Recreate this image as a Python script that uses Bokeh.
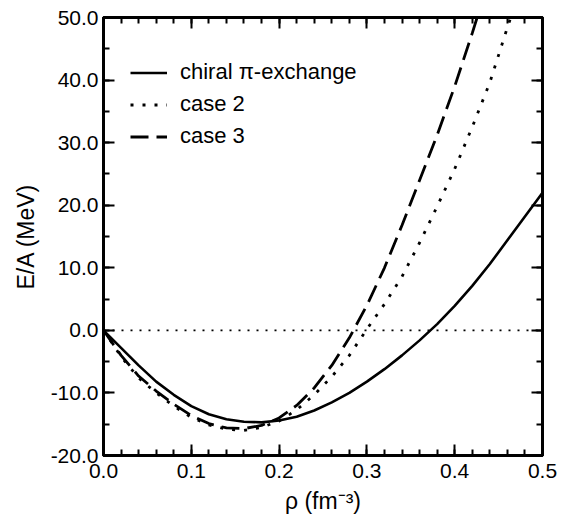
from bokeh.plotting import figure
from bokeh.models import (Range1d, FixedTicker, PrintfTickFormatter, LinearAxis,
                          Legend, LegendItem, Span, CustomLabelingPolicy)
from bokeh.embed import file_html
from bokeh.resources import INLINE

# Density grid (fm^-3) and energy per nucleon (MeV) for each calculation
rho_chiral = [0.00, 0.02, 0.04, 0.06, 0.08, 0.10, 0.12, 0.14, 0.16, 0.18, 0.20, 0.22, 0.24,
              0.26, 0.28, 0.30, 0.32, 0.34, 0.36, 0.38, 0.40, 0.42, 0.44, 0.46, 0.48, 0.50]
e_chiral = [0.0, -2.8, -5.6, -8.2, -10.3, -12.1, -13.4, -14.2, -14.6, -14.7, -14.4, -13.8, -12.8,
            -11.5, -10.0, -8.2, -6.2, -4.0, -1.6, 1.0, 3.9, 7.1, 10.6, 14.4, 18.2, 22.0]

rho_case2 = [0.00, 0.02, 0.04, 0.06, 0.08, 0.10, 0.12, 0.14, 0.16, 0.18, 0.20, 0.22, 0.24,
             0.26, 0.28, 0.30, 0.32, 0.34, 0.36, 0.38, 0.40, 0.42, 0.44, 0.46, 0.47]
e_case2 = [0.0, -4.2, -7.6, -10.0, -12.1, -13.9, -15.1, -15.8, -16.0, -15.5, -14.5, -12.7, -10.3,
           -7.4, -4.0, 0.2, 4.2, 8.6, 14.0, 19.8, 25.8, 32.5, 39.6, 48.4, 52.5]

rho_case3 = [0.00, 0.02, 0.04, 0.06, 0.08, 0.10, 0.12, 0.14, 0.16, 0.18, 0.20, 0.22, 0.24,
             0.26, 0.28, 0.30, 0.32, 0.34, 0.36, 0.38, 0.40, 0.42, 0.43]
e_case3 = [0.0, -4.0, -7.3, -9.7, -11.8, -13.6, -14.9, -15.6, -15.7, -15.2, -14.0, -12.0, -9.2,
           -5.6, -1.2, 4.0, 10.0, 16.8, 24.0, 31.2, 39.0, 47.5, 52.0]

x_ticks = [0.0, 0.1, 0.2, 0.3, 0.4, 0.5]
x_minor = [i * 0.02 for i in range(26)]
y_ticks = [-20, -10, 0, 10, 20, 30, 40, 50]
y_minor = [-20 + 5 * i for i in range(15)]

labels = ["chiral \u03c0-exchange", "case 2", "case 3"]

FONT = "Liberation Sans"

p = figure(width=567, height=520, output_backend="svg", toolbar_location=None,
           x_range=Range1d(0, 0.5), y_range=Range1d(-20, 50),
           min_border_left=103, min_border_right=25, min_border_top=17, min_border_bottom=65)
p.grid.visible = False
p.outline_line_color = "black"
p.outline_line_width = 3
p.background_fill_color = "white"
p.border_fill_color = "white"

# zero-energy reference line
p.add_layout(Span(location=0, dimension="width", line_color="black", line_width=1.8,
                  line_dash="2 7"))

r1 = p.line(rho_chiral, e_chiral, line_color="black", line_width=2.6)
r2 = p.line(rho_case2, e_case2, line_color="black", line_width=2.8, line_dash="3 9")
r3 = p.line(rho_case3, e_case3, line_color="black", line_width=2.8, line_dash="18 8")

xt = FixedTicker(ticks=x_ticks, minor_ticks=x_minor)
yt = FixedTicker(ticks=y_ticks, minor_ticks=y_minor)

# mirror axes on top/right carry tick marks only: drop every label
no_labels = CustomLabelingPolicy(
    code="const idx = [...indices]; for (const i of idx) { indices.unset(i) } return indices")


def style_axis(ax, show_labels):
    ax.axis_line_width = 3
    ax.major_tick_in = 11
    ax.major_tick_out = 0
    ax.minor_tick_in = 6
    ax.minor_tick_out = 0
    ax.major_tick_line_width = 2
    ax.minor_tick_line_width = 2
    ax.major_label_text_font = FONT
    ax.axis_label_text_font = FONT
    ax.axis_label_text_font_style = "normal"
    ax.major_label_text_color = "black"
    ax.axis_label_text_color = "black"
    if show_labels:
        ax.major_label_text_font_size = "21px"
        ax.axis_label_text_font_size = "23px"
    else:
        ax.major_label_policy = no_labels
        ax.major_label_standoff = 0


xa = p.xaxis[0]
xa.ticker = xt
xa.formatter = PrintfTickFormatter(format="%.1f")
xa.axis_label = "\u03c1 (fm\u207b\u00b3)"
xa.major_label_standoff = 8
xa.axis_label_standoff = 7
style_axis(xa, True)

ya = p.yaxis[0]
ya.ticker = yt
ya.formatter = PrintfTickFormatter(format="%.1f")
ya.axis_label = "E/A (MeV)"
ya.major_label_standoff = 5
ya.axis_label_standoff = 9
style_axis(ya, True)

top = LinearAxis(ticker=xt)
style_axis(top, False)
p.add_layout(top, "above")
right = LinearAxis(ticker=yt)
style_axis(right, False)
p.add_layout(right, "right")

legend = Legend(items=[LegendItem(label=labels[0], renderers=[r1]),
                       LegendItem(label=labels[1], renderers=[r2]),
                       LegendItem(label=labels[2], renderers=[r3])],
                location=(27, 306), padding=0, margin=0, spacing=6,
                glyph_width=37, glyph_height=25, label_height=25, label_standoff=13,
                label_text_font=FONT, label_text_font_size="22px", label_text_color="black",
                border_line_alpha=0, background_fill_alpha=0)
p.add_layout(legend)

open("out.html", "w").write(file_html(p, INLINE))
